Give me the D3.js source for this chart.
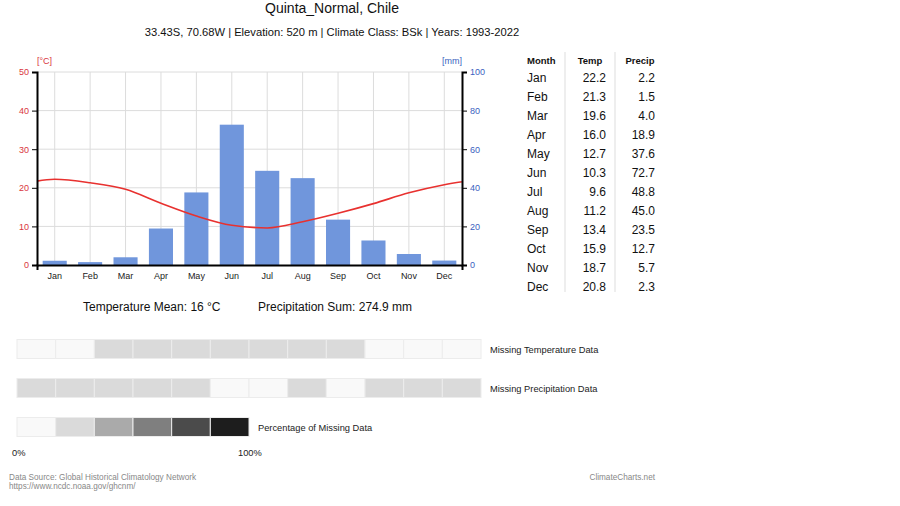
<!DOCTYPE html>
<html>
<head>
<meta charset="utf-8">
<script src="https://cdn.jsdelivr.net/npm/d3@7"></script>
<style>
  body { margin: 0; background: #fff; }
  text { font-family: "Liberation Sans", Arial, sans-serif; }
</style>
</head>
<body>
<div id="chart"></div>
<script>
// Data
var months = ["Jan", "Feb", "Mar", "Apr", "May", "Jun", "Jul", "Aug", "Sep", "Oct", "Nov", "Dec"];
var temps = [22.2, 21.3, 19.6, 16.0, 12.7, 10.3, 9.6, 11.2, 13.4, 15.9, 18.7, 20.8];
var precips = [2.2, 1.5, 4.0, 18.9, 37.6, 72.7, 48.8, 45.0, 23.5, 12.7, 5.7, 2.3];
var tempTicks = [0, 10, 20, 30, 40, 50];
var precTicks = [0, 20, 40, 60, 80, 100];
// missing data level per month (index into legend shades)
var missingTemp = [0, 0, 1, 1, 1, 1, 1, 1, 1, 0, 0, 0];
var missingPrec = [1, 1, 1, 1, 1, 0, 0, 1, 0, 1, 1, 1];
var legendLevels = [0, 1, 2, 3, 4, 5];
var shades = ["#f9f9f9", "#dadada", "#aaaaaa", "#7f7f7f", "#4b4b4b", "#1d1d1d"];

var svgWidth = 900;
var svgHeight = 506;

var plot = { left: 37, right: 462, top: 72, bottom: 265 };

var svg = d3.select("#chart")
  .append("svg")
  .attr("width", svgWidth)
  .attr("height", svgHeight);

// Titles
svg.append("text")
  .attr("x", 332).attr("y", 13)
  .attr("text-anchor", "middle")
  .attr("font-size", "14px")
  .attr("fill", "#111")
  .text("Quinta_Normal, Chile");

svg.append("text")
  .attr("x", 332).attr("y", 36)
  .attr("text-anchor", "middle")
  .attr("font-size", "11.2px")
  .attr("fill", "#111")
  .text("33.43S, 70.68W | Elevation: 520 m | Climate Class: BSk | Years: 1993-2022");

// Scales
var x = d3.scaleBand()
  .domain(months)
  .range([plot.left, plot.right]);

var yTemp = d3.scaleLinear().domain([0, 50]).range([plot.bottom, plot.top]);
var yPrec = d3.scaleLinear().domain([0, 100]).range([plot.bottom, plot.top]);

// Grid
var grid = svg.append("g");
grid.selectAll(".hgrid")
  .data(tempTicks.slice(1))
  .enter()
  .append("line")
  .attr("x1", plot.left).attr("x2", plot.right)
  .attr("y1", d => yTemp(d)).attr("y2", d => yTemp(d))
  .attr("stroke", "#dcdcdc").attr("stroke-width", 1);

grid.selectAll(".vgrid")
  .data(months)
  .enter()
  .append("line")
  .attr("x1", d => x(d) + x.bandwidth() / 2).attr("x2", d => x(d) + x.bandwidth() / 2)
  .attr("y1", plot.top).attr("y2", plot.bottom)
  .attr("stroke", "#dcdcdc").attr("stroke-width", 1);

// Precipitation bars
var barW = x.bandwidth() * 0.68;
svg.selectAll(".bar")
  .data(precips)
  .enter()
  .append("rect")
  .attr("x", (d, i) => x(months[i]) + (x.bandwidth() - barW) / 2)
  .attr("y", d => yPrec(d))
  .attr("width", barW)
  .attr("height", d => plot.bottom - yPrec(d))
  .attr("fill", "#7096dc");

// Temperature line (wrapped at both ends, clipped to plot)
svg.append("clipPath")
  .attr("id", "plotClip")
  .append("rect")
  .attr("x", plot.left).attr("y", plot.top)
  .attr("width", plot.right - plot.left).attr("height", plot.bottom - plot.top);

var bw = x.bandwidth();
var linePts = [[plot.left - bw / 2, temps[11]]]
  .concat(temps.map((t, i) => [x(months[i]) + bw / 2, t]))
  .concat([[plot.right + bw / 2, temps[0]]]);

var line = d3.line()
  .x(d => d[0])
  .y(d => yTemp(d[1]))
  .curve(d3.curveMonotoneX);

svg.append("path")
  .datum(linePts)
  .attr("clip-path", "url(#plotClip)")
  .attr("d", line)
  .attr("fill", "none")
  .attr("stroke", "#e8312f")
  .attr("stroke-width", 1.6);

// Axes
var leftAxis = d3.axisLeft(yTemp).tickValues(tempTicks).tickSize(5).tickPadding(3);
var rightAxis = d3.axisRight(yPrec).tickValues(precTicks).tickSize(5).tickPadding(3);
var bottomAxis = d3.axisBottom(x).tickSizeInner(0).tickSizeOuter(5).tickPadding(8);

var gLeft = svg.append("g")
  .attr("transform", `translate(${plot.left}, 0)`)
  .call(leftAxis);
gLeft.selectAll("text").attr("fill", "#d9363e").attr("font-size", "9px");

var gRight = svg.append("g")
  .attr("transform", `translate(${plot.right}, 0)`)
  .call(rightAxis);
gRight.selectAll("text").attr("fill", "#3b5fc0").attr("font-size", "9px");

var gBottom = svg.append("g")
  .attr("transform", `translate(0, ${plot.bottom})`)
  .call(bottomAxis);
gBottom.selectAll("text").attr("fill", "#222").attr("font-size", "9px");

[gLeft, gRight, gBottom].forEach(function(g) {
  g.selectAll("path, line").attr("stroke", "#000");
  g.select("path.domain").attr("stroke-width", 2);
  g.selectAll("text").attr("font-family", "Liberation Sans, Arial, sans-serif");
});

// Units
svg.append("text")
  .attr("x", plot.left).attr("y", 64)
  .attr("font-size", "9px").attr("fill", "#d9363e")
  .text("[°C]");
svg.append("text")
  .attr("x", plot.right).attr("y", 64)
  .attr("text-anchor", "end")
  .attr("font-size", "9px").attr("fill", "#3b5fc0")
  .text("[mm]");

// Summary
svg.append("text")
  .attr("x", 83).attr("y", 311)
  .attr("font-size", "12px").attr("fill", "#111")
  .text("Temperature Mean: " + Math.round(d3.mean(temps)) + " °C");
svg.append("text")
  .attr("x", 258).attr("y", 311)
  .attr("font-size", "12px").attr("fill", "#111")
  .text("Precipitation Sum: " + d3.sum(precips).toFixed(1) + " mm");

// Table
var table = svg.append("g");
var rowY = d3.scaleLinear().domain([0, 11]).range([78, 287]);

table.append("text").attr("x", 527).attr("y", 64)
  .attr("font-size", "9.5px").attr("font-weight", "bold").attr("fill", "#111").text("Month");
table.append("text").attr("x", 590).attr("y", 64).attr("text-anchor", "middle")
  .attr("font-size", "9.5px").attr("font-weight", "bold").attr("fill", "#111").text("Temp");
table.append("text").attr("x", 640).attr("y", 64).attr("text-anchor", "middle")
  .attr("font-size", "9.5px").attr("font-weight", "bold").attr("fill", "#111").text("Precip");

[565, 615].forEach(function(sx) {
  table.append("line")
    .attr("x1", sx).attr("x2", sx).attr("y1", 52).attr("y2", 292)
    .attr("stroke", "#ddd").attr("stroke-width", 1);
});

months.forEach(function(m, i) {
  var yy = rowY(i) + 4;
  table.append("text").attr("x", 527).attr("y", yy)
    .attr("font-size", "12px").attr("fill", "#111").text(m);
  table.append("text").attr("x", 606).attr("y", yy).attr("text-anchor", "end")
    .attr("font-size", "12px").attr("fill", "#111").text(temps[i].toFixed(1));
  table.append("text").attr("x", 655).attr("y", yy).attr("text-anchor", "end")
    .attr("font-size", "12px").attr("fill", "#111").text(precips[i].toFixed(1));
});

// Missing data rows
var cellX = d3.scaleBand().domain(d3.range(12)).range([17, 481]);
var legendX = d3.scaleBand().domain(legendLevels).range([17, 249]);

function drawCells(data, scale, y0, h) {
  svg.append("g").selectAll("rect")
    .data(data)
    .enter()
    .append("rect")
    .attr("x", (d, i) => scale(i))
    .attr("y", y0)
    .attr("width", scale.bandwidth())
    .attr("height", h)
    .attr("fill", d => shades[d])
    .attr("stroke", "#ececec")
    .attr("stroke-width", 1);
}

drawCells(missingTemp, cellX, 339.5, 19);
drawCells(missingPrec, cellX, 378.5, 19);
drawCells(legendLevels, legendX, 417.5, 19);

svg.append("text").attr("x", 490).attr("y", 353)
  .attr("font-size", "9.3px").attr("fill", "#222").text("Missing Temperature Data");
svg.append("text").attr("x", 490).attr("y", 392)
  .attr("font-size", "9.3px").attr("fill", "#222").text("Missing Precipitation Data");
svg.append("text").attr("x", 258).attr("y", 431)
  .attr("font-size", "9.3px").attr("fill", "#222").text("Percentage of Missing Data");
svg.append("text").attr("x", 12).attr("y", 456)
  .attr("font-size", "9.3px").attr("fill", "#222").text("0%");
svg.append("text").attr("x", 238).attr("y", 456)
  .attr("font-size", "9.3px").attr("fill", "#222").text("100%");

// Footer
svg.append("text").attr("x", 9).attr("y", 480)
  .attr("font-size", "8.2px").attr("fill", "#888").text("Data Source: Global Historical Climatology Network");
svg.append("text").attr("x", 9).attr("y", 489)
  .attr("font-size", "8.2px").attr("fill", "#888").text("https://www.ncdc.noaa.gov/ghcnm/");
svg.append("text").attr("x", 655).attr("y", 480).attr("text-anchor", "end")
  .attr("font-size", "8.2px").attr("fill", "#888").text("ClimateCharts.net");
</script>
</body>
</html>
